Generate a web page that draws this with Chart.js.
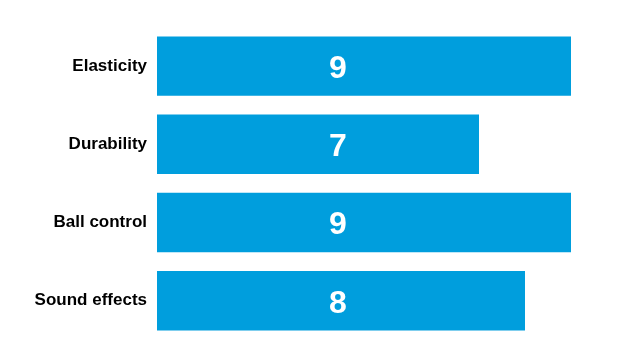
<!DOCTYPE html>
<html>
<head>
<meta charset="utf-8">
<script src="https://cdn.jsdelivr.net/npm/chart.js@4/dist/chart.umd.min.js"></script>
<style>
  html, body { margin: 0; padding: 0; background: #fff; }
  #wrap { width: 619px; height: 360px; }
</style>
</head>
<body>
<div id="wrap"><canvas id="chart"></canvas></div>
<script>
const categories = ['Elasticity', 'Durability', 'Ball control', 'Sound effects'];
const scores = [9, 7, 9, 8];
const BAR_COLOR = '#009EDD';
const FONT = "'Liberation Sans', Arial, sans-serif";

// white score text, all sitting at the same x inside the bars
const valueLabels = {
  id: 'valueLabels',
  afterDatasetsDraw(chart) {
    const { ctx, scales } = chart;
    const meta = chart.getDatasetMeta(0);
    const x = scales.x.getPixelForValue(3.93);
    ctx.save();
    ctx.fillStyle = '#fff';
    ctx.font = `bold 32px ${FONT}`;
    ctx.textAlign = 'center';
    ctx.textBaseline = 'middle';
    meta.data.forEach((bar, i) => {
      ctx.fillText(String(scores[i]), x, bar.y + 3);
    });
    ctx.restore();
  },
};

new Chart(document.getElementById('chart'), {
  type: 'bar',
  data: {
    labels: categories,
    datasets: [{
      data: scores,
      backgroundColor: BAR_COLOR,
      borderWidth: 0,
      categoryPercentage: 1,
      barPercentage: 0.76,
    }],
  },
  options: {
    indexAxis: 'y',
    responsive: true,
    maintainAspectRatio: false,
    animation: false,
    layout: { padding: { left: 0, top: 27, bottom: 17, right: 48 } },
    plugins: { legend: { display: false }, tooltip: { enabled: false } },
    scales: {
      x: { display: false, min: 0, max: 9 },
      y: {
        grid: { display: false, drawTicks: false },
        border: { display: false },
        afterFit: s => { s.width = 157; },
        ticks: {
          color: '#000',
          padding: 10,
          font: { family: FONT, size: 17, weight: 'bold' },
        },
      },
    },
  },
  plugins: [valueLabels],
});
</script>
</body>
</html>
